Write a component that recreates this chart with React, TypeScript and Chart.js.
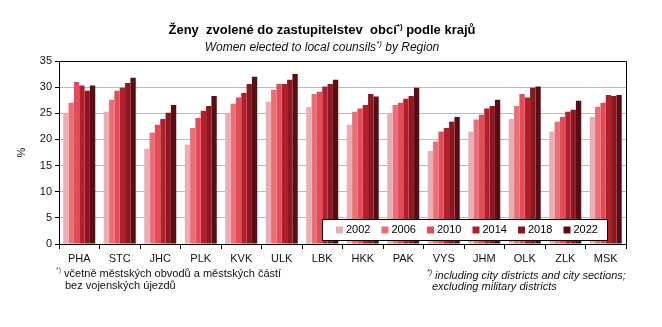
import React, { useEffect, useRef } from 'react';
import { Chart, registerables } from 'chart.js';
Chart.register(...registerables);

const regions = ['PHA', 'STC', 'JHC', 'PLK', 'KVK', 'ULK', 'LBK', 'HKK', 'PAK', 'VYS', 'JHM', 'OLK', 'ZLK', 'MSK'];
const years = ['2002', '2006', '2010', '2014', '2018', '2022'];
const v2002 = [25.1, 25.3, 18.2, 19.0, 25.0, 27.2, 26.2, 22.8, 25.0, 17.8, 21.5, 23.9, 21.5, 24.3];
const v2006 = [27.0, 27.6, 21.3, 22.2, 26.8, 29.5, 28.7, 25.3, 26.6, 19.6, 23.8, 26.4, 23.4, 26.2];
const v2010 = [31.0, 29.3, 22.8, 24.1, 28.0, 30.6, 29.1, 25.9, 27.0, 21.5, 24.7, 28.7, 24.3, 27.0];
const v2014 = [30.3, 29.9, 23.9, 25.5, 28.9, 30.6, 30.1, 26.6, 27.8, 22.2, 25.9, 28.0, 25.3, 28.5];
const v2018 = [29.3, 30.8, 25.1, 26.4, 30.6, 31.4, 30.6, 28.7, 28.3, 23.4, 26.4, 29.9, 25.7, 28.3];
const v2022 = [30.3, 31.8, 26.6, 28.3, 32.0, 32.5, 31.4, 28.2, 29.9, 24.3, 27.6, 30.1, 27.4, 28.5];
const series = [v2002, v2006, v2010, v2014, v2018, v2022];
const colors = ['#E8AEB3', '#EA6E76', '#E24B57', '#B21E2A', '#8C1720', '#5A0E14'];
const yTicks = [0, 5, 10, 15, 20, 25, 30, 35];

const FONT = "'Liberation Sans', Arial, sans-serif";
const TEXT = '#111';

const framePlugin = {
  id: 'frame',
  afterDraw(chart: any) {
    const { ctx, chartArea } = chart;
    ctx.save();
    ctx.strokeStyle = '#000';
    ctx.lineWidth = 1;
    ctx.beginPath();
    ctx.moveTo(Math.round(chartArea.left) + 0.5, Math.round(chartArea.top) + 0.5);
    ctx.lineTo(Math.round(chartArea.right) + 0.5, Math.round(chartArea.top) + 0.5);
    ctx.lineTo(Math.round(chartArea.right) + 0.5, Math.round(chartArea.bottom) + 0.5);
    ctx.stroke();
    ctx.restore();
  },
};

const legendPlugin = {
  id: 'insideLegend',
  afterDatasetsDraw(chart: any) {
    const { ctx, chartArea } = chart;
    const w = 285;
    const h = 21;
    const right = Math.round(chartArea.right) - 19;
    const bottom = Math.round(chartArea.bottom) - 4;
    const left = right - w;
    const top = bottom - h;
    ctx.save();
    ctx.fillStyle = '#fff';
    ctx.fillRect(left, top, w, h);
    ctx.strokeStyle = '#000';
    ctx.lineWidth = 1;
    ctx.strokeRect(left + 0.5, top + 0.5, w, h);
    ctx.font = `11px ${FONT}`;
    ctx.textBaseline = 'middle';
    ctx.textAlign = 'left';
    chart.data.datasets.forEach((ds: any, i: number) => {
      const x = left + 14 + i * 45.5;
      const cy = top + h / 2 + 0.5;
      ctx.fillStyle = ds.backgroundColor;
      ctx.fillRect(x, cy - 3.5, 7, 7);
      ctx.fillStyle = '#000';
      ctx.fillText(ds.label, x + 10, cy);
    });
    ctx.restore();
  },
};

export default function App() {
  const ref = useRef<HTMLCanvasElement>(null);
  useEffect(() => {
    const chart = new Chart(ref.current as HTMLCanvasElement, {
      type: 'bar',
      data: {
        labels: regions,
        datasets: series.map((d, i) => ({
          label: years[i],
          data: d,
          backgroundColor: colors[i],
          borderWidth: 0,
          categoryPercentage: 0.79,
          barPercentage: 1,
        })),
      },
      options: {
        animation: false,
        responsive: false,
        maintainAspectRatio: false,
        layout: { padding: { left: 13, right: 36, top: 61, bottom: 63 } },
        plugins: { legend: { display: false }, tooltip: { enabled: false }, title: { display: false } },
        scales: {
          x: {
            grid: { display: true, drawOnChartArea: false, drawTicks: true, tickLength: 5, color: '#000', offset: true },
            border: { display: true, color: '#000', width: 1 },
            ticks: { color: TEXT, font: { family: FONT, size: 11 }, padding: 3, maxRotation: 0, autoSkip: false },
            afterFit(s: any) { s.height = 20; },
          },
          y: {
            min: 0,
            max: 35,
            afterBuildTicks(s: any) { s.ticks = yTicks.map((v) => ({ value: v })); },
            ticks: { color: TEXT, font: { family: FONT, size: 11 }, padding: 3 },
            grid: { color: '#BBBBBB', tickLength: 4, tickColor: '#000' },
            border: { display: true, color: '#000', width: 1 },
            title: { display: true, text: '%', color: TEXT, font: { family: FONT, size: 11 }, padding: 2 },
            afterFit(s: any) { s.width = 46; },
          },
        },
      },
      plugins: [framePlugin, legendPlugin],
    } as any);
    return () => chart.destroy();
  }, []);

  const base: React.CSSProperties = { position: 'absolute', fontFamily: FONT, color: TEXT, whiteSpace: 'nowrap', lineHeight: 1 };
  return (
    <div style={{ position: 'absolute', left: 0, top: 0, width: 662, height: 327, background: '#fff', overflow: 'hidden' }}>
      <canvas ref={ref} width={662} height={327} style={{ position: 'absolute', left: 0, top: 0, width: 662, height: 327 }} />
      <div style={{ ...base, left: 0, width: 644, top: 23, textAlign: 'center', fontSize: 13, fontWeight: 'bold', color: '#000' }}>
        Ženy&nbsp; zvolené do zastupitelstev&nbsp; obcí<sup style={{ fontSize: 8 }}>*)</sup> podle krajů
      </div>
      <div style={{ ...base, left: 0, width: 644, top: 40, textAlign: 'center', fontSize: 12, fontStyle: 'italic' }}>
        Women elected to local counsils<sup style={{ fontSize: 8 }}>*)</sup> by Region
      </div>
      <div style={{ ...base, left: 56, top: 266, fontSize: 11 }}>
        <sup style={{ fontSize: 7, color: '#555' }}>*)</sup> včetně městských obvodů a městských částí
      </div>
      <div style={{ ...base, left: 65, top: 280, fontSize: 11 }}>bez vojenských újezdů</div>
      <div style={{ ...base, left: 427, top: 268, fontSize: 11, fontStyle: 'italic' }}>
        <sup style={{ fontSize: 7 }}>*)</sup> including city districts and city sections;
      </div>
      <div style={{ ...base, left: 432, top: 281, fontSize: 11, fontStyle: 'italic' }}>excluding military districts</div>
    </div>
  );
}
